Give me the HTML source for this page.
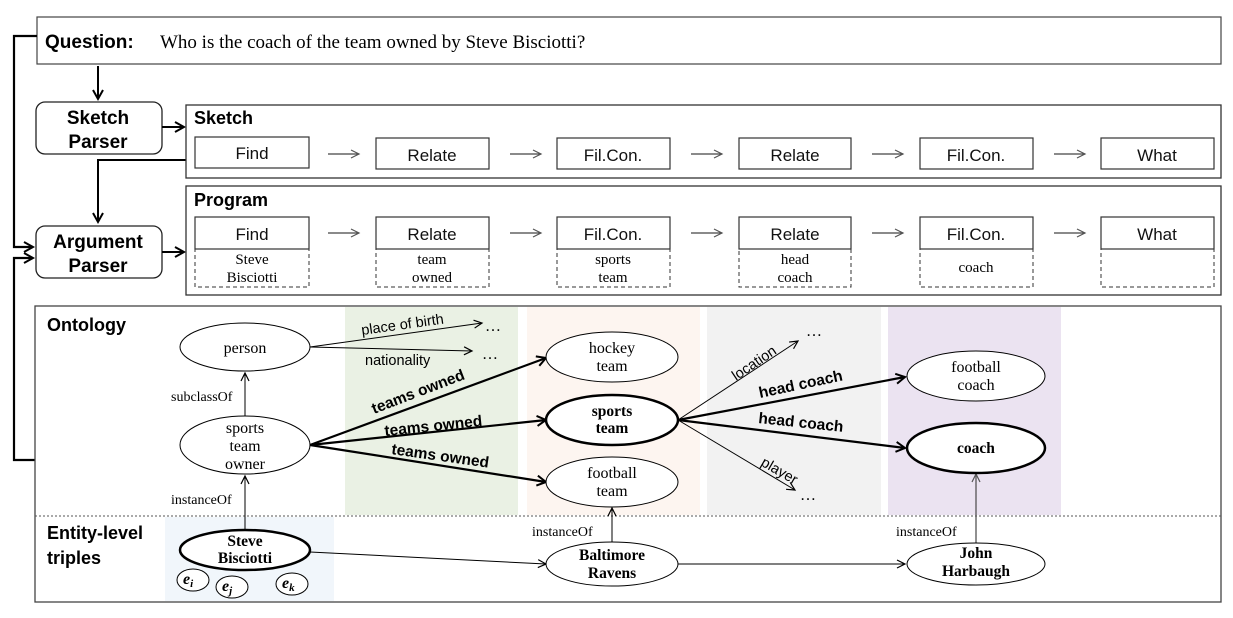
<!DOCTYPE html>
<html><head><meta charset="utf-8"><style>
html,body{margin:0;padding:0;background:#fff;}
svg{display:block;}
.sans{font-family:"Liberation Sans",sans-serif;}
.serif{font-family:"Liberation Serif",serif;}
</style></head><body>
<svg width="1233" height="618" viewBox="0 0 1233 618" xmlns="http://www.w3.org/2000/svg">
<defs>
<marker id="op" markerWidth="12" markerHeight="12" refX="9" refY="5" orient="auto" markerUnits="userSpaceOnUse"><path d="M1,1 L9,5 L1,9" fill="none" stroke="#000" stroke-width="1.2"/></marker>
<marker id="opb" markerWidth="14" markerHeight="14" refX="10" refY="6" orient="auto" markerUnits="userSpaceOnUse"><path d="M1,1 L10,6 L1,11" fill="none" stroke="#000" stroke-width="2"/></marker>
<marker id="opg" markerWidth="12" markerHeight="12" refX="9" refY="5" orient="auto" markerUnits="userSpaceOnUse"><path d="M1,1 L9,5 L1,9" fill="none" stroke="#555" stroke-width="1.2"/></marker>
</defs>

<rect x="37" y="17" width="1184" height="47" fill="#fff" stroke="#444" stroke-width="1.2"/>
<text x="45" y="48" class="sans" font-size="19" font-weight="bold">Question:</text>
<text x="160" y="48" class="serif" font-size="19">Who is the coach of the team owned by Steve Bisciotti?</text>

<polyline points="37,36 14,36 14,247 33,247" fill="none" stroke="#000" stroke-width="2.2" marker-end="url(#opb)"/>
<polyline points="35,460 14,460 14,258 33,258" fill="none" stroke="#000" stroke-width="2.2" marker-end="url(#opb)"/>

<line x1="98" y1="66" x2="98" y2="99" stroke="#000" stroke-width="2" marker-end="url(#opb)"/>
<rect x="36" y="102" width="126" height="52" rx="9" fill="#fff" stroke="#222" stroke-width="1.3"/>
<text x="98" y="124" text-anchor="middle" class="sans" font-size="19" font-weight="bold">Sketch</text>
<text x="98" y="148" text-anchor="middle" class="sans" font-size="19" font-weight="bold">Parser</text>
<line x1="162" y1="127" x2="184" y2="127" stroke="#000" stroke-width="2" marker-end="url(#opb)"/>
<polyline points="186,160 98,160 98,222" fill="none" stroke="#000" stroke-width="2" marker-end="url(#opb)"/>
<rect x="36" y="226" width="126" height="52" rx="9" fill="#fff" stroke="#222" stroke-width="1.3"/>
<text x="98" y="248" text-anchor="middle" class="sans" font-size="19" font-weight="bold">Argument</text>
<text x="98" y="272" text-anchor="middle" class="sans" font-size="19" font-weight="bold">Parser</text>
<line x1="162" y1="252" x2="184" y2="252" stroke="#000" stroke-width="2" marker-end="url(#opb)"/>

<rect x="186" y="105" width="1035" height="73" fill="#fff" stroke="#333" stroke-width="1.3"/>
<text x="194" y="124" class="sans" font-size="18" font-weight="bold">Sketch</text>
<g class="sans" font-size="17" text-anchor="middle" fill="#111">
<rect x="195" y="137" width="114" height="31" fill="none" stroke="#333" stroke-width="1.2"/><text x="252" y="159">Find</text>
<rect x="376" y="138" width="113" height="31" fill="none" stroke="#333" stroke-width="1.2"/><text x="432" y="161">Relate</text>
<rect x="557" y="138" width="113" height="31" fill="none" stroke="#333" stroke-width="1.2"/><text x="613" y="161">Fil.Con.</text>
<rect x="739" y="138" width="112" height="31" fill="none" stroke="#333" stroke-width="1.2"/><text x="795" y="161">Relate</text>
<rect x="920" y="138" width="113" height="31" fill="none" stroke="#333" stroke-width="1.2"/><text x="976" y="161">Fil.Con.</text>
<rect x="1101" y="138" width="113" height="31" fill="none" stroke="#333" stroke-width="1.2"/><text x="1157" y="161">What</text>
</g>
<g stroke="#444" stroke-width="1.2" marker-end="url(#opg)">
<line x1="328" y1="154" x2="359" y2="154"/><line x1="510" y1="154" x2="541" y2="154"/><line x1="691" y1="154" x2="722" y2="154"/><line x1="872" y1="154" x2="903" y2="154"/><line x1="1054" y1="154" x2="1085" y2="154"/>
</g>

<rect x="186" y="186" width="1035" height="109" fill="#fff" stroke="#333" stroke-width="1.3"/>
<text x="194" y="206" class="sans" font-size="18" font-weight="bold">Program</text>
<g class="sans" font-size="17" text-anchor="middle" fill="#111">
<rect x="195" y="217" width="114" height="32" fill="none" stroke="#333" stroke-width="1.2"/><text x="252" y="240">Find</text>
<rect x="376" y="217" width="113" height="32" fill="none" stroke="#333" stroke-width="1.2"/><text x="432" y="240">Relate</text>
<rect x="557" y="217" width="113" height="32" fill="none" stroke="#333" stroke-width="1.2"/><text x="613" y="240">Fil.Con.</text>
<rect x="739" y="217" width="112" height="32" fill="none" stroke="#333" stroke-width="1.2"/><text x="795" y="240">Relate</text>
<rect x="920" y="217" width="113" height="32" fill="none" stroke="#333" stroke-width="1.2"/><text x="976" y="240">Fil.Con.</text>
<rect x="1101" y="217" width="113" height="32" fill="none" stroke="#333" stroke-width="1.2"/><text x="1157" y="240">What</text>
</g>
<g fill="none" stroke="#333" stroke-width="1" stroke-dasharray="4,3">
<rect x="195" y="249" width="114" height="38"/><rect x="376" y="249" width="113" height="38"/><rect x="557" y="249" width="113" height="38"/><rect x="739" y="249" width="112" height="38"/><rect x="920" y="249" width="113" height="38"/><rect x="1101" y="249" width="113" height="38"/>
</g>
<g class="serif" font-size="15" text-anchor="middle">
<text x="252" y="264">Steve</text><text x="252" y="282">Bisciotti</text>
<text x="432" y="264">team</text><text x="432" y="282">owned</text>
<text x="613" y="264">sports</text><text x="613" y="282">team</text>
<text x="795" y="264">head</text><text x="795" y="282">coach</text>
<text x="976" y="272">coach</text>
</g>
<g stroke="#444" stroke-width="1.2" marker-end="url(#opg)">
<line x1="328" y1="233" x2="359" y2="233"/><line x1="510" y1="233" x2="541" y2="233"/><line x1="691" y1="233" x2="722" y2="233"/><line x1="872" y1="233" x2="903" y2="233"/><line x1="1054" y1="233" x2="1085" y2="233"/>
</g>

<rect x="35" y="306" width="1186" height="296" fill="#fff" stroke="#444" stroke-width="1.3"/>
<rect x="345" y="307" width="173" height="208" fill="#eaf1e4"/>
<rect x="527" y="307" width="173" height="208" fill="#fdf5f0"/>
<rect x="707" y="307" width="174" height="208" fill="#f2f2f2"/>
<rect x="888" y="307" width="173" height="208" fill="#ebe3f1"/>
<rect x="165" y="517" width="169" height="84" fill="#f1f6fb"/>
<line x1="35" y1="516" x2="1221" y2="516" stroke="#555" stroke-width="1" stroke-dasharray="2,2"/>
<text x="47" y="331" class="sans" font-size="18" font-weight="bold">Ontology</text>
<text x="47" y="539" class="sans" font-size="18" font-weight="bold">Entity-level</text>
<text x="47" y="564" class="sans" font-size="18" font-weight="bold">triples</text>

<g stroke="#000" fill="none">
<line x1="310" y1="347" x2="482" y2="323" stroke-width="1" marker-end="url(#op)"/>
<line x1="310" y1="347" x2="472" y2="351" stroke-width="1" marker-end="url(#op)"/>
<line x1="245" y1="416" x2="245" y2="373" stroke-width="1" marker-end="url(#op)"/>
<line x1="245" y1="530" x2="245" y2="476" stroke-width="1" marker-end="url(#op)"/>
<line x1="310" y1="445" x2="546" y2="358" stroke-width="2.2" marker-end="url(#opb)"/>
<line x1="310" y1="445" x2="546" y2="420" stroke-width="2.2" marker-end="url(#opb)"/>
<line x1="310" y1="445" x2="546" y2="482" stroke-width="2.2" marker-end="url(#opb)"/>
<line x1="678" y1="420" x2="798" y2="341" stroke-width="1" marker-end="url(#op)"/>
<line x1="678" y1="420" x2="905" y2="377" stroke-width="2.2" marker-end="url(#opb)"/>
<line x1="678" y1="420" x2="905" y2="448" stroke-width="2.2" marker-end="url(#opb)"/>
<line x1="678" y1="420" x2="795" y2="490" stroke-width="1" marker-end="url(#op)"/>
<line x1="310" y1="552" x2="546" y2="564" stroke-width="1" marker-end="url(#op)"/>
<line x1="678" y1="564" x2="905" y2="564" stroke-width="1" marker-end="url(#op)"/>
<line x1="612" y1="542" x2="612" y2="508" stroke-width="1" marker-end="url(#op)"/>
<line x1="976" y1="543" x2="976" y2="474" stroke="#555" stroke-width="1.3" marker-end="url(#opg)"/>
</g>
<g class="serif" font-size="16">
<text x="485" y="331">…</text><text x="482" y="359">…</text>
<text x="806" y="336">…</text><text x="800" y="500">…</text>
</g>

<g class="sans" font-size="14.5">
<text x="362" y="335" transform="rotate(-8 362 335)">place of birth</text>
<text x="365" y="365">nationality</text>
<text x="736" y="381" transform="rotate(-34 736 381)">location</text>
<text x="760" y="465" transform="rotate(30 760 465)">player</text>
</g>
<g class="sans" font-size="15.5" font-weight="bold">
<text x="374" y="414" transform="rotate(-21 374 414)">teams owned</text>
<text x="385" y="436" transform="rotate(-6 385 436)">teams owned</text>
<text x="391" y="454" transform="rotate(8 391 454)">teams owned</text>
<text x="760" y="398" transform="rotate(-12 760 398)">head coach</text>
<text x="758" y="423" transform="rotate(6 758 423)">head coach</text>
</g>
<g class="serif" font-size="14">
<text x="171" y="401">subclassOf</text>
<text x="171" y="504">instanceOf</text>
<text x="532" y="536">instanceOf</text>
<text x="896" y="536">instanceOf</text>
</g>

<g fill="#fff" stroke="#000">
<ellipse cx="245" cy="347" rx="65" ry="24" stroke-width="1"/>
<ellipse cx="245" cy="445" rx="65" ry="29" stroke-width="1"/>
<ellipse cx="245" cy="550" rx="65" ry="20" stroke-width="2.5"/>
<ellipse cx="612" cy="357" rx="66" ry="25" stroke-width="1"/>
<ellipse cx="612" cy="420" rx="66" ry="25" stroke-width="2.5"/>
<ellipse cx="612" cy="482" rx="66" ry="25" stroke-width="1"/>
<ellipse cx="612" cy="564" rx="66" ry="22" stroke-width="1"/>
<ellipse cx="976" cy="376" rx="69" ry="25" stroke-width="1"/>
<ellipse cx="976" cy="448" rx="69" ry="25" stroke-width="2.5"/>
<ellipse cx="976" cy="564" rx="69" ry="21" stroke-width="1"/>
<ellipse cx="193" cy="580" rx="16" ry="11" stroke-width="1"/>
<ellipse cx="232" cy="587" rx="16" ry="11" stroke-width="1"/>
<ellipse cx="292" cy="584" rx="16" ry="11" stroke-width="1"/>
</g>
<g class="serif" font-size="16" text-anchor="middle">
<text x="245" y="353">person</text>
<text x="245" y="433">sports</text><text x="245" y="451">team</text><text x="245" y="469">owner</text>
<text x="612" y="353">hockey</text><text x="612" y="371">team</text>
<text x="612" y="478">football</text><text x="612" y="496">team</text>
<text x="976" y="372">football</text><text x="976" y="390">coach</text>
</g>
<g class="serif" font-size="15.5" font-weight="bold" text-anchor="middle">
<text x="245" y="546">Steve</text><text x="245" y="563">Bisciotti</text>
<text x="612" y="416">sports</text><text x="612" y="433">team</text>
<text x="612" y="560">Baltimore</text><text x="612" y="578">Ravens</text>
<text x="976" y="453">coach</text>
<text x="976" y="558">John</text><text x="976" y="576">Harbaugh</text>
</g>
<g class="serif" font-size="16" font-style="italic" font-weight="bold">
<text x="183" y="584">e<tspan font-size="11" dy="3">i</tspan></text>
<text x="222" y="591">e<tspan font-size="11" dy="3">j</tspan></text>
<text x="282" y="588">e<tspan font-size="11" dy="3">k</tspan></text>
</g>
</svg>
</body></html>
